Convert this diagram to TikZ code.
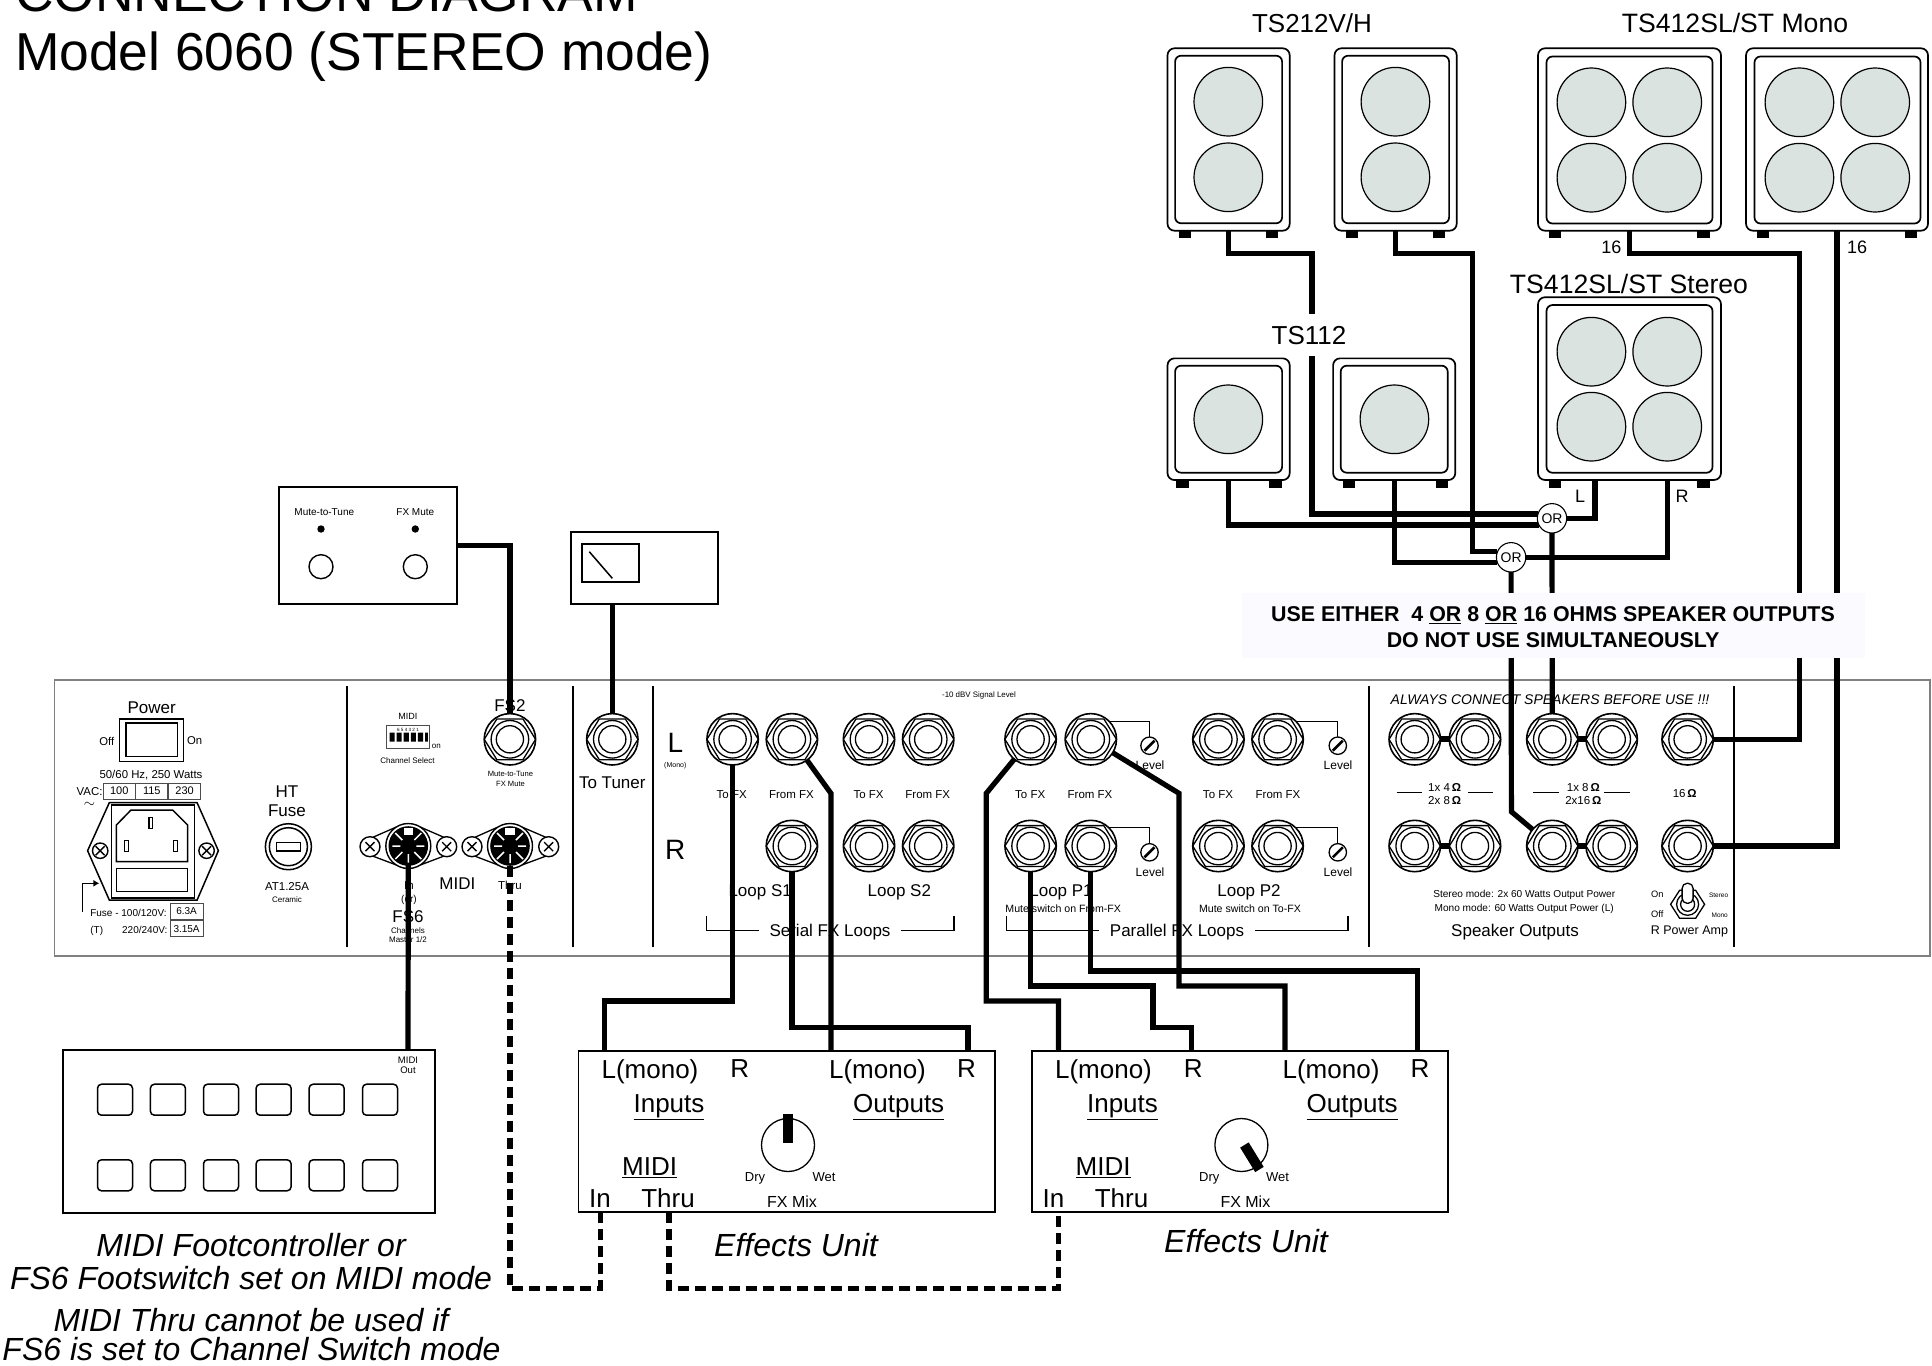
\documentclass[tikz,border=0pt]{standalone}
\usepackage{fontspec}
\setmainfont{Liberation Sans}
\usetikzlibrary{arrows.meta}
\pgfdeclarelayer{top}
\pgfsetlayers{main,top}
\definecolor{conefill}{HTML}{DAE3DF}
\definecolor{noticefill}{HTML}{FAFAFF}
\newcommand{\fsz}[1]{\fontsize{#1}{#1}\selectfont}

\begin{document}
\begin{tikzpicture}[
  x=1pt, y=-1pt,
  every node/.style={inner sep=0pt, outer sep=0pt},
  lbl/.style={text depth=0pt, align=center, yshift=-1pt},
  box/.style={rectangle, draw, line width=1.8pt},
  thinbox/.style={rectangle, draw=black!70, line width=0.9pt, text depth=0pt},
  divider/.style={line width=2.2pt},
  jack/.style={circle, draw, line width=1.6pt, minimum size=51.4pt, path picture={
    \draw[line width=1.3pt, shift={(path picture bounding box.center)}] (-25.7,0) -- (-13,-20.4) -- (13,-20.4) -- (25.7,0) -- (13,20.4) -- (-13,20.4) -- cycle;
    \draw[line width=1.3pt] (path picture bounding box.center) circle (18.8);
    \draw[line width=1.3pt] (path picture bounding box.center) circle (13.6);
  }},
  din/.style={circle, draw, fill=white, line width=1.4pt, minimum size=45pt, path picture={
    \fill[black] (path picture bounding box.center) circle (19.8);
    \draw[white, line width=1.5pt, shift={(path picture bounding box.center)}]
      (-6,-6) -- (-13,-13) (6,-6) -- (13,-13) (-8,0) -- (-16,0) (8,0) -- (16,0)
      (-6,6) -- (-13,13) (6,6) -- (13,13) (0,8) -- (0,17);
    \fill[white, shift={(path picture bounding box.center)}] (-4.7,-18) rectangle (4.7,-11);
  }},
  screw/.style={circle, draw, fill=white, line width=1.4pt, minimum size=20pt, path picture={
    \draw[line width=1.4pt, shift={(path picture bounding box.center)}] (-4.5,-4.5) -- (4.5,4.5) (-4.5,4.5) -- (4.5,-4.5);
  }},
  trim/.style={circle, draw, line width=1.3pt, minimum size=17.4pt, path picture={
    \draw[line width=2.6pt, shift={(path picture bounding box.center)}] (-5,5) -- (5,-5);
  }},
  leader/.style={line width=1.2pt},
  cabout/.style={rectangle, draw, fill=white, line width=1.7pt, rounded corners=7pt, minimum width=122.2pt},
  cabin/.style={rectangle, draw, line width=1.7pt, rounded corners=6pt, minimum width=107pt},
  cone/.style={circle, draw, fill=conefill, line width=1.2pt, minimum size=68.6pt},
  foot/.style={rectangle, fill=black, minimum width=12.4pt, minimum height=7.6pt},
  orgate/.style={circle, draw, fill=white, line width=1.1pt, minimum size=29.4pt, font=\fsz{14}, text depth=0pt},
  button/.style={rectangle, draw, line width=1.5pt, rounded corners=4pt, minimum width=35pt, minimum height=31pt},
  unit/.style={box, minimum width=416.2pt, minimum height=161.6pt},
  knob/.style={circle, draw, line width=1.3pt, minimum size=53pt},
  wire/.style={line width=5.2pt},
  wiredash/.style={line width=5.2pt, dash pattern=on 11pt off 6pt},
]
\useasboundingbox (0,0) rectangle (1932,1365);

% Title
\node[anchor=base west, font=\fsz{53.4}] (title1) at (15,11.7) {CONNECTION DIAGRAM};
\node[anchor=base west, font=\fsz{53.4}] (title2) at (15,70) {Model 6060 (STEREO mode)};

% Rear panel
\draw[draw=black!50, line width=1.4pt] (54.7,680) rectangle (1930,956);
\draw[divider] (346.6,686) -- (346.6,947);
\draw[divider] (572.7,686) -- (572.7,947);
\draw[divider] (652.6,686) -- (652.6,947);
\draw[divider] (1369,686) -- (1369,947);
\draw[divider] (1733.6,686) -- (1733.6,947);

% Power section
\node[lbl, font=\fsz{17}] (powerlbl) at (151.6,707) {Power};
\node[rectangle, draw, line width=1.2pt, minimum width=64.4pt, minimum height=42.7pt] (powersw) at (151.4,740.3) {};
\node[rectangle, draw, line width=1.6pt, minimum width=51.7pt, minimum height=33.7pt] (powerin) at (151.8,739.8) {};
\node[lbl, left=0pt, font=\fsz{11.3}] (offlbl) at (114.3,740) {Off};
\node[lbl, right=0pt, font=\fsz{11.3}] (onlbl) at (187,740) {On};
\node[lbl, font=\fsz{11.4}] (wattslbl) at (151,773) {50/60 Hz, 250 Watts};
\node[lbl, anchor=east, font=\fsz{11.4}] (vaclbl) at (102.5,791) {VAC:};
\node[thinbox, minimum width=31.6pt, minimum height=16pt, font=\fsz{11}] (v100) at (119.2,791) {100};
\node[thinbox, minimum width=32pt, minimum height=16pt, font=\fsz{11}] (v115) at (151.8,791) {115};
\node[thinbox, minimum width=32pt, minimum height=16pt, font=\fsz{11}] (v230) at (184.6,791) {230};
\node[font=\fsz{14}] (acsym) at (89.5,805) {$\sim$};

% IEC inlet
\draw[line width=1.5pt] (87.6,850.7) -- (109.3,802.7) -- (197.1,802.7) -- (218.4,850.7) -- (197.1,900) -- (109.3,900) -- cycle;
\node[rectangle, draw, line width=1.5pt, minimum width=83pt, minimum height=92.7pt] (iecframe) at (152.8,851.4) {};
\draw[line width=1.5pt] (116.4,825) -- (131,810) -- (172.6,810) -- (187.6,825) -- (187.6,861.7) -- (116.4,861.7) -- cycle;
\node[rectangle, draw, line width=1.2pt, minimum width=3.6pt, minimum height=11pt] (pinE) at (150.8,823) {};
\node[rectangle, draw, line width=1.2pt, minimum width=3.6pt, minimum height=11pt] (pinL) at (126.3,846) {};
\node[rectangle, draw, line width=1.2pt, minimum width=3.6pt, minimum height=11pt] (pinN) at (175.3,846) {};
\node[rectangle, draw, line width=1.5pt, minimum width=71.2pt, minimum height=23.4pt] (fusedraw) at (152,880) {};
\node[screw, minimum size=15.4pt] (iecL) at (100.2,850.7) {};
\node[screw, minimum size=15.4pt] (iecR) at (206.6,850.7) {};
\coordinate (fusearrow) at (82.4,911.7);
\coordinate (fuseslot) at (99.4,883.3);
\draw[line width=1.2pt, -{Latex[length=6pt,width=7pt]}] (fusearrow) |- (fuseslot);
\node[lbl, anchor=west, font=\fsz{10}] (fuselbl) at (90.3,911.7) {Fuse - 100/120V:};
\node[lbl, font=\fsz{10}] (tlbl) at (96.7,928.5) {(T)};
\node[lbl, anchor=east, font=\fsz{10}] (fuse240) at (167.4,928.5) {220/240V:};
\node[thinbox, minimum width=32.8pt, minimum height=16pt, font=\fsz{10}] (f63) at (186.6,911.3) {6.3A};
\node[thinbox, minimum width=32.8pt, minimum height=16pt, font=\fsz{10}] (f315) at (186.6,928.7) {3.15A};

% HT fuse
\node[lbl, font=\fsz{17}] (htlbl) at (287,790.7) {HT};
\node[lbl, font=\fsz{17}] (fusehead) at (287,809.3) {Fuse};
\node[circle, draw, line width=1.5pt, minimum size=46pt] (htouter) at (288.4,846.7) {};
\node[circle, draw, line width=1.5pt, minimum size=38pt] (htinner) at (288.4,846.7) {};
\node[rectangle, draw, line width=1.5pt, minimum width=23.7pt, minimum height=8.3pt] (htslot) at (288.4,846.7) {};
\node[lbl, font=\fsz{11.5}] (htval) at (287,885) {AT1.25A};
\node[lbl, font=\fsz{8}] (htceram) at (287,898.3) {Ceramic};

% MIDI channel select
\node[lbl, font=\fsz{9}] (midismall) at (407.9,715.7) {MIDI};
\node[rectangle, draw=black!70, line width=0.8pt, minimum width=43pt, minimum height=23.4pt] (dip) at (408,737) {};
\node[lbl, font=\fsz{4.6}] (dipnum) at (408,728.6) {6 5 4 3 2 1};
\fill (389.5,732.5) rectangle (394.6,741.7) (396.6,732.5) rectangle (401.7,741.7) (403.7,732.5) rectangle (408.8,741.7);
\fill (410.8,732.5) rectangle (415.9,741.7) (417.9,732.5) rectangle (423,741.7) (425,732.5) rectangle (427.9,741.7);
\node[lbl, font=\fsz{8}] (diponlbl) at (436.3,745.7) {on};
\node[lbl, font=\fsz{8}] (chsellbl) at (407.5,760) {Channel Select};

% FS2 and tuner jacks
\node[lbl, font=\fsz{17}] (fs2lbl) at (509.9,704.3) {FS2};
\node[jack] (jkFS2) at (509.9,739.3) {};
\node[lbl, font=\fsz{7.6}] (fs2a) at (510.5,773.3) {Mute-to-Tune};
\node[lbl, font=\fsz{7.6}] (fs2b) at (510.5,783.3) {FX Mute};
\node[jack] (jkTuner) at (612.3,739.3) {};
\node[lbl, font=\fsz{17}] (tunerlbl) at (612.3,781.7) {To Tuner};

% MIDI sockets
\node[screw] (scr1a) at (370,846.7) {};
\node[screw] (scr1b) at (446.7,846.7) {};
\node[din] (din1) at (408.3,846) {};
\draw[line width=1.3pt] (scr1a.72) -- (din1.123) (scr1a.-72) -- (din1.-123) (scr1b.108) -- (din1.57) (scr1b.-108) -- (din1.-57);
\node[screw] (scr2a) at (472,846.7) {};
\node[screw] (scr2b) at (548.7,846.7) {};
\node[din] (din2) at (510,846) {};
\draw[line width=1.3pt] (scr2a.72) -- (din2.123) (scr2a.-72) -- (din2.-123) (scr2b.108) -- (din2.57) (scr2b.-108) -- (din2.-57);
\node[lbl, font=\fsz{11.5}] (inlbl) at (409,884.5) {In};
\node[lbl, font=\fsz{17}] (midilbl) at (457.3,882.3) {MIDI};
\node[lbl, font=\fsz{11.5}] (thrulbl) at (510,884.5) {Thru};
\node[lbl, font=\fsz{10}] (orlbl) at (409,898.3) {(or)};
\node[lbl, font=\fsz{17}] (fs6lbl) at (408,916) {FS6};
\node[lbl, font=\fsz{8}] (chlbl) at (408,929.3) {Channels};
\node[lbl, font=\fsz{8}] (masterlbl) at (408,938.8) {Master 1/2};

% FX loops
\node[lbl, font=\fsz{7.9}] (dbvlbl) at (979,694) {-10 dBV Signal Level};
\node[lbl, font=\fsz{28}] (leftlbl) at (675.3,742.3) {L};
\node[lbl, font=\fsz{7}] (monolbl) at (675.3,764) {(Mono)};
\node[lbl, font=\fsz{28}] (rightlbl) at (675.3,849) {R};
\node[jack] (s1ToL) at (732.6,739.3) {};
\node[jack] (s1FromL) at (791.9,739.3) {};
\node[jack] (s2ToL) at (869,739.3) {};
\node[jack] (s2FromL) at (928.2,739.3) {};
\node[jack] (p1ToL) at (1030.6,739.3) {};
\node[jack] (p1FromL) at (1090.8,739.3) {};
\node[jack] (p2ToL) at (1218.4,739.3) {};
\node[jack] (p2FromL) at (1277.6,739.3) {};
\node[jack] (s1FromR) at (791.9,846) {};
\node[jack] (s2ToR) at (869,846) {};
\node[jack] (s2FromR) at (928.2,846) {};
\node[jack] (p1ToR) at (1030.6,846) {};
\node[jack] (p1FromR) at (1090.8,846) {};
\node[jack] (p2ToR) at (1218.4,846) {};
\node[jack] (p2FromR) at (1277.6,846) {};
\node[lbl, font=\fsz{11.5}] (tofx1) at (731.7,793.3) {To FX};
\node[lbl, font=\fsz{11.5}] (fromfx1) at (791.4,793.3) {From FX};
\node[lbl, font=\fsz{11.5}] (tofx2) at (868.6,793.3) {To FX};
\node[lbl, font=\fsz{11.5}] (fromfx2) at (927.8,793.3) {From FX};
\node[lbl, font=\fsz{11.5}] (tofx3) at (1030.2,793.3) {To FX};
\node[lbl, font=\fsz{11.5}] (fromfx3) at (1090,793.3) {From FX};
\node[lbl, font=\fsz{11.5}] (tofx4) at (1218,793.3) {To FX};
\node[lbl, font=\fsz{11.5}] (fromfx4) at (1278,793.3) {From FX};

% Level trims
\node[trim] (trimP1L) at (1149.5,745.7) {};
\node[trim] (trimP2L) at (1337.8,745.7) {};
\node[trim] (trimP1R) at (1149.5,852.3) {};
\node[trim] (trimP2R) at (1337.8,852.3) {};
\draw[leader] (p1FromL.45) -| (trimP1L.north);
\draw[leader] (p2FromL.45) -| (trimP2L.north);
\draw[leader] (p1FromR.45) -| (trimP1R.north);
\draw[leader] (p2FromR.45) -| (trimP2R.north);
\node[lbl, font=\fsz{12}] (lvl1) at (1150,764.3) {Level};
\node[lbl, font=\fsz{12}] (lvl2) at (1338,764.3) {Level};
\node[lbl, font=\fsz{12}] (lvl3) at (1150,871) {Level};
\node[lbl, font=\fsz{12}] (lvl4) at (1338,871) {Level};
\node[lbl, font=\fsz{17}] (loopS1) at (760.2,890) {Loop S1};
\node[lbl, font=\fsz{17}] (loopS2) at (899.3,890) {Loop S2};
\node[lbl, font=\fsz{17}] (loopP1) at (1061,890) {Loop P1};
\node[lbl, font=\fsz{17}] (loopP2) at (1249,890) {Loop P2};
\node[lbl, font=\fsz{10.6}] (mutefrom) at (1063.2,907.3) {Mute switch on From-FX};
\node[lbl, font=\fsz{10.6}] (muteto) at (1250,907.3) {Mute switch on To-FX};
\node[lbl, font=\fsz{17}] (seriallbl) at (830,929.3) {Serial FX Loops};
\node[lbl, font=\fsz{17}] (parallellbl) at (1177,929.3) {Parallel FX Loops};
\draw[leader] (706.5,916) |- ([xshift=-11pt]seriallbl.west);
\draw[leader] (954,916) |- ([xshift=11pt]seriallbl.east);
\draw[leader] (1006.7,916) |- ([xshift=-11pt]parallellbl.west);
\draw[leader] (1347.9,916) |- ([xshift=11pt]parallellbl.east);

% Speaker outputs
\node[lbl, font=\itshape\fsz{14}] (alwayslbl) at (1550,698.3) {ALWAYS CONNECT SPEAKERS BEFORE USE !!!};
\draw[line width=6pt] (1440,739.3) -- (1450,739.3) (1577,739.3) -- (1587,739.3) (1440,846) -- (1450,846) (1577,846) -- (1587,846);
\node[jack] (o4a) at (1414.7,739.3) {};
\node[jack] (o4b) at (1475,739.3) {};
\node[jack] (o8a) at (1552.3,739.3) {};
\node[jack] (o8b) at (1611.7,739.3) {};
\node[jack] (o16a) at (1687.6,739.3) {};
\node[jack] (o4c) at (1414.7,846) {};
\node[jack] (o4d) at (1475,846) {};
\node[jack] (o8c) at (1552.3,846) {};
\node[jack] (o8d) at (1611.7,846) {};
\node[jack] (o16b) at (1687.6,846) {};
\node[lbl, font=\fsz{11.5}] (ohm4) at (1444.6,793) {1x 4\,\textbf{Ω}\\[2pt]2x 8\,\textbf{Ω}};
\node[lbl, font=\fsz{11.5}] (ohm8) at (1583.3,793) {1x 8\,\textbf{Ω}\\[2pt]2x16\,\textbf{Ω}};
\node[lbl, font=\fsz{11.5}] (ohm16) at (1684.7,792.7) {16\,\textbf{Ω}};
\draw[leader] (1396.5,792.7) -- (1422,792.7) (1468.4,792.7) -- (1493.2,792.7);
\draw[leader] (1533,792.7) -- (1558.8,792.7) (1604.4,792.7) -- (1630,792.7);
\node[lbl, font=\fsz{10.1}] (stereomode) at (1524.2,893.3) {Stereo mode: 2x 60 Watts Output Power};
\node[lbl, font=\fsz{10.1}] (monomode) at (1524.2,906.7) {Mono mode: 60 Watts Output Power (L)};
\node[lbl, font=\fsz{17}] (spklbl) at (1515,929.3) {Speaker Outputs};
\node[lbl, font=\fsz{9.3}] (onsw) at (1657.3,893.3) {On};
\node[lbl, font=\fsz{9.3}] (offsw) at (1657.3,913.3) {Off};
\node[lbl, font=\fsz{6.5}] (stereosw) at (1718.6,894.3) {Stereo};
\node[lbl, font=\fsz{6.5}] (monosw) at (1719.7,914.3) {Mono};
\node[lbl, font=\fsz{12.5}] (rpower) at (1689.4,929.3) {R Power Amp};

% Toggle switch
\begin{scope}[shift={(1687.6,904.3)}]
  \draw[line width=1.3pt] (-17,0) -- (-8,-14) -- (8,-14) -- (17,0) -- (8,14) -- (-8,14) -- cycle;
  \draw[line width=1.3pt] (0,0) circle (11);
  \draw[line width=1.3pt] (0,0) circle (7);
  \draw[line width=1.3pt, fill=white, rounded corners=5pt] (-5.5,-21) rectangle (5.5,-1);
\end{scope}

% Mute footswitch
\node[box, minimum width=178.3pt, minimum height=117pt] (mutefs) at (368.2,545.8) {};
\node[lbl, font=\fsz{10}] (fsmtt) at (324.3,510.7) {Mute-to-Tune};
\node[lbl, font=\fsz{10}] (fsmute) at (415.3,510.7) {FX Mute};
\node[circle, fill=black, minimum size=7.4pt] (ledA) at (321,529) {};
\node[circle, fill=black, minimum size=7.4pt] (ledB) at (415.3,529) {};
\node[circle, draw, line width=1.4pt, minimum size=24pt] (swA) at (321,566.7) {};
\node[circle, draw, line width=1.4pt, minimum size=24pt] (swB) at (415.3,566.7) {};

% Tuner
\node[box, minimum width=147.6pt, minimum height=72pt] (tuner) at (644.5,568.3) {};
\node[rectangle, draw, line width=1.5pt, minimum width=57.3pt, minimum height=38pt] (meter) at (610.4,563) {};
\draw[line width=1.5pt] (589.3,551.7) -- (612.3,578.3);

% Footcontroller
\node[box, minimum width=371.7pt, minimum height=163.3pt] (footctrl) at (249.2,1131.6) {};
\node[lbl, font=\fsz{9.5}] (midiout) at (408,1064) {MIDI\\[1pt]Out};
\node[button] (btA1) at (115,1099.7) {};
\node[button] (btA2) at (167.9,1099.7) {};
\node[button] (btA3) at (221,1099.7) {};
\node[button] (btA4) at (273.6,1099.7) {};
\node[button] (btA5) at (326.6,1099.7) {};
\node[button] (btA6) at (380,1099.7) {};
\node[button] (btB1) at (115,1175.3) {};
\node[button] (btB2) at (167.9,1175.3) {};
\node[button] (btB3) at (221,1175.3) {};
\node[button] (btB4) at (273.6,1175.3) {};
\node[button] (btB5) at (326.6,1175.3) {};
\node[button] (btB6) at (380,1175.3) {};
\coordinate (fcOut) at (408,1050);
\node[anchor=base, font=\itshape\fsz{32}] (cap1) at (251,1256) {MIDI Footcontroller or};
\node[anchor=base, font=\itshape\fsz{32}] (cap2) at (251,1289) {FS6 Footswitch set on MIDI mode};
\node[anchor=base, font=\itshape\fsz{32}] (cap3) at (251,1331) {MIDI Thru cannot be used if};
\node[anchor=base, font=\itshape\fsz{32}] (cap4) at (251.5,1360.5) {FS6 is set to Channel Switch mode};

% Effects unit A
\node[unit] (unitA) at (786.5,1131.5) {};
\node[lbl, font=\fsz{26}] (aIn) at (650,1067.7) {L(mono)};
\node[lbl, font=\fsz{26}] (aInR) at (739.7,1067.7) {R};
\node[lbl, font=\fsz{26}] (aOut) at (877.5,1067.7) {L(mono)};
\node[lbl, font=\fsz{26}] (aOutR) at (966.4,1067.7) {R};
\node[lbl, font=\fsz{26}] (aInputs) at (669,1102.3) {\underline{Inputs}};
\node[lbl, font=\fsz{26}] (aOutputs) at (898.7,1102.3) {\underline{Outputs}};
\node[lbl, font=\fsz{26}] (aMidi) at (649.6,1165.7) {\underline{MIDI}};
\node[lbl, font=\fsz{26}] (aMidiIn) at (600,1197.3) {In};
\node[lbl, font=\fsz{26}] (aThru) at (668,1197.3) {Thru};
\node[knob] (knobA) at (788,1145) {};
\draw[line width=10pt] ([yshift=4.5pt]knobA.north) -- ([yshift=2.3pt]knobA.center);
\node[lbl, font=\fsz{13}] (aDry) at (755,1175.7) {Dry};
\node[lbl, font=\fsz{13}] (aWet) at (824,1175.7) {Wet};
\node[lbl, font=\fsz{16}] (aMix) at (792,1200.7) {FX Mix};
\node[lbl, font=\itshape\fsz{32}] (aName) at (796,1244) {Effects Unit};

% Effects unit B
\node[unit] (unitB) at (1240,1131.5) {};
\node[lbl, font=\fsz{26}] (bIn) at (1103.5,1067.7) {L(mono)};
\node[lbl, font=\fsz{26}] (bInR) at (1193.2,1067.7) {R};
\node[lbl, font=\fsz{26}] (bOut) at (1331,1067.7) {L(mono)};
\node[lbl, font=\fsz{26}] (bOutR) at (1419.9,1067.7) {R};
\node[lbl, font=\fsz{26}] (bInputs) at (1122.5,1102.3) {\underline{Inputs}};
\node[lbl, font=\fsz{26}] (bOutputs) at (1352.2,1102.3) {\underline{Outputs}};
\node[lbl, font=\fsz{26}] (bMidi) at (1103.1,1165.7) {\underline{MIDI}};
\node[lbl, font=\fsz{26}] (bMidiIn) at (1053.5,1197.3) {In};
\node[lbl, font=\fsz{26}] (bThru) at (1121.5,1197.3) {Thru};
\node[knob] (knobB) at (1241.4,1145) {};
\draw[line width=10pt] ([xshift=3pt]knobB.center) -- ([xshift=4pt,yshift=-2pt]knobB.-58);
\node[lbl, font=\fsz{13}] (bDry) at (1209.3,1175.7) {Dry};
\node[lbl, font=\fsz{13}] (bWet) at (1277.6,1175.7) {Wet};
\node[lbl, font=\fsz{16}] (bMix) at (1245.4,1200.7) {FX Mix};
\node[lbl, font=\itshape\fsz{32}] (bName) at (1246,1240) {Effects Unit};

% Unit ports
\coordinate (inAL) at (604.8,1050.7);
\coordinate (outAL) at (831,1050.7);
\coordinate (outAR) at (968,1050.7);
\coordinate (inBL) at (1058.5,1050.7);
\coordinate (inBR) at (1191.5,1050.7);
\coordinate (outBL) at (1285,1050.7);
\coordinate (outBR) at (1417.5,1050.7);
\coordinate (midiInA) at (600.2,1212.3);
\coordinate (midiThruA) at (669,1212.3);
\coordinate (midiInB) at (1058.5,1212.3);

% Cabinets: TS212V/H
\node[lbl, font=\fsz{26}] (ts212) at (1312,21.7) {TS212V/H};
\node[cabout, minimum height=182.4pt] (cabA) at (1228.6,139.5) {};
\node[cabin, minimum height=167.6pt] (cabAin) at (1228.6,139.5) {};
\node[cone] (coneA1) at (1228.3,101.7) {};
\node[cone] (coneA2) at (1228.3,177.3) {};
\node[foot] (footA1) at (1185,234.5) {};
\node[foot] (footA2) at (1272,234.5) {};
\node[cabout, minimum height=182.4pt] (cabB) at (1395.6,139.5) {};
\node[cabin, minimum height=167.6pt] (cabBin) at (1395.6,139.5) {};
\node[cone] (coneB1) at (1395.4,101.7) {};
\node[cone] (coneB2) at (1395.4,177.3) {};
\node[foot] (footB1) at (1352,234.5) {};
\node[foot] (footB2) at (1439,234.5) {};

% Cabinets: TS412SL/ST mono
\node[lbl, font=\fsz{26.6}] (ts412m) at (1735,21.7) {TS412SL/ST Mono};
\node[cabout, minimum width=183pt, minimum height=182.4pt] (cabC) at (1629.5,139.5) {};
\node[cabin, minimum width=166pt, minimum height=167pt] (cabCin) at (1629.5,140) {};
\node[cone] (coneC1) at (1591.4,102.3) {};
\node[cone] (coneC2) at (1667.2,102.3) {};
\node[cone] (coneC3) at (1591.4,177.7) {};
\node[cone] (coneC4) at (1667.2,177.7) {};
\node[foot] (footC1) at (1555.2,234.5) {};
\node[foot] (footC2) at (1703.3,234.5) {};
\node[cabout, minimum width=182pt, minimum height=182.4pt] (cabD) at (1837,139.5) {};
\node[cabin, minimum width=166pt, minimum height=167pt] (cabDin) at (1837.5,140) {};
\node[cone] (coneD1) at (1799.4,102.3) {};
\node[cone] (coneD2) at (1875.2,102.3) {};
\node[cone] (coneD3) at (1799.4,177.7) {};
\node[cone] (coneD4) at (1875.2,177.7) {};
\node[foot] (footD1) at (1763.2,234.5) {};
\node[foot] (footD2) at (1911,234.5) {};
\node[lbl, font=\fsz{18}] (ohmC) at (1611.4,246) {16};
\node[lbl, font=\fsz{18}] (ohmD) at (1857.2,246) {16};

% Cabinets: TS112
\node[cabout, minimum height=121.7pt] (cabE) at (1228.6,419.2) {};
\node[cabin, minimum height=107pt] (cabEin) at (1228.6,419.2) {};
\node[cone] (coneE) at (1228.3,419.3) {};
\node[foot] (footE1) at (1182.5,483.8) {};
\node[foot] (footE2) at (1275.3,483.8) {};
\node[cabout, minimum height=121.7pt] (cabF) at (1394.2,419.2) {};
\node[cabin, minimum height=107pt] (cabFin) at (1394.2,419.2) {};
\node[cone] (coneF) at (1394.4,419.3) {};
\node[foot] (footF1) at (1349,483.8) {};
\node[foot] (footF2) at (1441.8,483.8) {};

% Cabinets: TS412SL/ST stereo
\node[lbl, font=\fsz{26.6}] (ts412s) at (1629,282.7) {TS412SL/ST Stereo};
\node[cabout, minimum width=183pt, minimum height=182.7pt] (cabG) at (1629.5,388.6) {};
\node[cabin, minimum width=166pt, minimum height=167.7pt] (cabGin) at (1629.5,388.9) {};
\node[cone] (coneG1) at (1591.4,351.7) {};
\node[cone] (coneG2) at (1667.2,351.7) {};
\node[cone] (coneG3) at (1591.4,426.7) {};
\node[cone] (coneG4) at (1667.2,426.7) {};
\node[foot] (footG1) at (1555.2,483.8) {};
\node[foot] (footG2) at (1703.3,483.8) {};
\coordinate (stL) at (1594.9,480);
\coordinate (stR) at (1667.2,480);
\node[lbl, font=\fsz{18}] (stLlbl) at (1580,495) {L};
\node[lbl, font=\fsz{18}] (stRlbl) at (1682,495) {R};

% Things that lie over the wires
\begin{pgfonlayer}{top}
\node[orgate] (orL) at (1552,518.3) {OR};
\node[orgate] (orR) at (1511.1,557.3) {OR};
\node[lbl, fill=white, font=\fsz{26}, minimum height=42pt, text depth=0pt] (ts112) at (1309,334) {TS112};
\node[fill=noticefill, minimum width=623pt, minimum height=64.4pt] (notice) at (1553,625.5) {};
\node[lbl, font=\bfseries\fsz{21.4}] (useeither) at (1553,613.3) {USE EITHER\ \ 4 \underline{OR} 8 \underline{OR} 16 OHMS SPEAKER OUTPUTS};
\node[lbl, font=\bfseries\fsz{21.4}] (donot) at (1553,639.3) {DO NOT USE SIMULTANEOUSLY};
\end{pgfonlayer}

% Footswitch and tuner wires
\draw[wire] (mutefs.east) -| (jkFS2);
\draw[wire] (jkTuner |- tuner.south) -- (jkTuner);

% MIDI wires
\draw[wire] ([yshift=6pt]din1.south) -- (fcOut);
\draw[wiredash] ([yshift=3pt]din2.south) |- (600.2,1288.3) -- (midiInA);
\draw[wiredash] (midiThruA) |- (1058.5,1288.3) -- (midiInB);

% Loop S1 wires
\draw[wire] (s1ToL) |- (604.8,1001) -- (inAL);
\draw[wire] (s1FromR) |- (968,1027.7) -- (outAR);
\draw[wire] (s1FromL) -- (830.9,793.3) -- (outAL);

% Loop P1 wires
\draw[wire] (p1ToL) -- (986.3,793.3) |- (1058.5,1001) -- (inBL);
\draw[wire] (p1ToR) |- (1153,986) |- (1191.5,1027.7) -- (inBR);
\draw[wire] (p1FromL) -- (1179,793.3) |- (1285,986) -- (outBL);
\draw[wire] (p1FromR) |- (1417.5,971) -- (outBR);

% Speaker wires
\draw[wire] (cabA.south) |- (1312,253.3) |- (orL.163);
\draw[wire] (cabE.south) |- (orL.207);
\draw[wire] (stL) |- (orL.east);
\draw[wire] (cabB.south) |- (1472.7,253.3) |- (orR.158);
\draw[wire] (cabF.south) |- (orR.202);
\draw[wire] (stR) |- (orR.east);
\draw[wire] (orL.south) -- (o8a);
\draw[wire] (orR.south) -- (1511.4,811.7) -- (o8c);
\draw[wire] (cabC.south) |- (1799.5,253.3) |- (o16a);
\draw[wire] (cabD.south) |- (o16b);

\end{tikzpicture}
\end{document}
